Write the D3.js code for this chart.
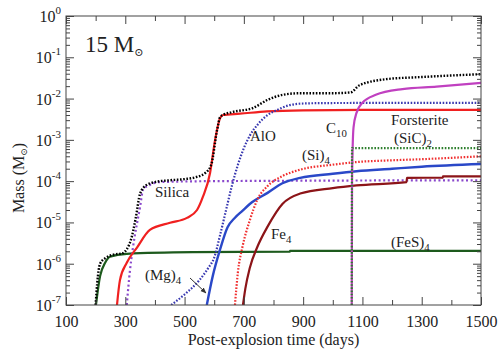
<!DOCTYPE html>
<html><head><meta charset="utf-8">
<script src="https://cdn.jsdelivr.net/npm/d3@7/dist/d3.min.js"></script>
<style>
body{margin:0;background:#fff;}
svg{display:block;font-family:"Liberation Serif","Tinos","Times New Roman","DejaVu Serif",serif;}
svg text{font-family:"Liberation Serif","Tinos","Times New Roman","DejaVu Serif",serif;}
</style></head><body>
<svg id="c" width="500" height="350"></svg>
<script>
// ---- data (days, mass in solar masses) ----
const totalDays = [200,205,215,235,260,290,305,320,335,350,370,400,450,500,540,570,590,610,620,630,660,730,780,830,890,1000,1060,1090,1180,1290,1500];
const totalMass = [1e-7,3.2e-7,1.0e-6,1.4e-6,1.66e-6,1.78e-6,2.24e-6,4.0e-6,1.26e-5,5.0e-5,7.9e-5,9.5e-5,1.05e-4,1.12e-4,1.26e-4,1.58e-4,2.5e-4,1.78e-3,3.55e-3,4.0e-3,4.7e-3,5.9e-3,9.3e-3,1.23e-2,1.35e-2,1.35e-2,1.41e-2,2.1e-2,2.95e-2,3.3e-2,3.9e-2];

const forstDays = [272,282,305,340,383,451,508,542,562,586,603,620,630,687,778,900,1100,1500];
const forstMass = [1e-7,4.0e-7,1.05e-6,2.5e-6,6.6e-6,9.8e-6,1.29e-5,2.0e-5,4.2e-5,1.58e-4,1.0e-3,3.4e-3,4.0e-3,4.3e-3,4.9e-3,5.2e-3,5.3e-3,5.3e-3];

const silicaDays = [305,316,326,350,360,383,417,600,1500];
const silicaMass = [1e-7,7.1e-7,2.5e-6,2.4e-5,6.2e-5,8.1e-5,9.5e-5,1.0e-4,1.05e-4];

const fesDays = [201,215,232,248,305,528,855,856,1500];
const fesMass = [1e-7,5.0e-7,1.05e-6,1.48e-6,1.74e-6,1.9e-6,1.95e-6,2.04e-6,2.04e-6];

const aloDays = [455,500,550,580,600,620,640,660,680,700,720,750,780,810,850,900,1000,1500];
const aloMass = [1e-7,1.8e-7,4.0e-7,7.9e-7,1.41e-6,5.0e-6,2.0e-5,7.9e-5,2.5e-4,6.3e-4,1.26e-3,2.5e-3,4.0e-3,5.2e-3,6.8e-3,7.6e-3,7.8e-3,7.9e-3];

const mgDays = [575,595,620,645,670,695,720,780,830,890,1000,1080,1200,1300,1500];
const mgMass = [1e-7,5.0e-7,2.24e-6,7.6e-6,1.3e-5,1.9e-5,2.8e-5,5.2e-5,8.9e-5,1.2e-4,1.51e-4,1.74e-4,2.0e-4,2.24e-4,2.6e-4];

const siDays = [670,680,695,720,745,780,830,890,1000,1080,1200,1300,1500];
const siMass = [1e-7,6.3e-7,2.5e-6,1.12e-5,3.5e-5,7.6e-5,1.32e-4,1.9e-4,2.5e-4,2.9e-4,3.2e-4,3.4e-4,4.0e-4];

const feDays = [697,705,720,745,780,830,890,1000,1080,1249,1250,1371,1372,1500];
const feMass = [1e-7,2.5e-7,7.9e-7,2.5e-6,7.9e-6,2.8e-5,5.0e-5,6.8e-5,7.9e-5,9.5e-5,1.2e-4,1.22e-4,1.3e-4,1.3e-4];

const c10Days = [1064,1065,1067,1070,1080,1100,1145,1235,1350,1500];
const c10Mass = [1e-7,1.0e-4,6.3e-4,2.0e-3,4.5e-3,7.9e-3,1.23e-2,1.7e-2,1.95e-2,2.4e-2];

const sicDays = [1064,1065,1500];
const sicMass = [1e-7,6.3e-4,6.3e-4];

const xTicks = [100,300,500,700,900,1100,1300,1500];
const xMinor = [200,400,600,800,1000,1200,1400];
const yTicks = [1e-7,1e-6,1e-5,1e-4,1e-3,1e-2,1e-1,1];
const yExp = ["-7","-6","-5","-4","-3","-2","-1","0"];

// ---- layout ----
const L=66, R=481, T=16, B=305;
const svg = d3.select("#c");
const x = d3.scaleLinear().domain([100,1500]).range([L,R]);
const y = d3.scaleLog().domain([1e-7,1]).range([B,T]);

svg.append("clipPath").attr("id","clip").append("rect")
  .attr("x",L).attr("y",T).attr("width",R-L).attr("height",B-T);

const series = [
  {d:fesDays, m:fesMass, c:"#1d5a1d", w:2.2, dash:null},
  {d:silicaDays, m:silicaMass, c:"#8a48cc", w:2.2, dash:"2,2.6"},
  {d:forstDays, m:forstMass, c:"#f02020", w:2.2, dash:null},
  {d:aloDays, m:aloMass, c:"#3838b0", w:2.2, dash:"1.6,1.6"},
  {d:mgDays, m:mgMass, c:"#2a48c8", w:2.4, dash:null},
  {d:siDays, m:siMass, c:"#f03030", w:2.2, dash:"1.6,1.6"},
  {d:feDays, m:feMass, c:"#8c1418", w:2.2, dash:null},
  {d:c10Days, m:c10Mass, c:"#c040c0", w:2.2, dash:null},
  {d:sicDays, m:sicMass, c:"#2e7f2e", w:2.2, dash:"1.6,1.6"},
  {d:totalDays, m:totalMass, c:"#000", w:2.4, dash:"1.6,1.6"}
];

const line = d3.line().x(p=>x(p[0])).y(p=>y(p[1])).curve(d3.curveMonotoneX);
const g = svg.append("g").attr("clip-path","url(#clip)");
series.forEach(s=>{
  g.append("path").attr("d", line(s.d.map((v,i)=>[v,s.m[i]])))
   .attr("fill","none").attr("stroke",s.c).attr("stroke-width",s.w)
   .attr("stroke-dasharray",s.dash);
});

// ---- axes ----
const axCol="#444";
function style(sel){ sel.select(".domain").remove(); sel.selectAll("line").attr("stroke",axCol); }
svg.append("g").attr("transform",`translate(0,${B})`)
  .call(d3.axisBottom(x).tickValues(xTicks).tickSizeInner(-8).tickSizeOuter(0).tickPadding(11).tickFormat(d3.format("d")))
  .call(style).call(s=>s.selectAll("text").attr("font-size",16).attr("fill","#222").attr("font-family",null));
svg.append("g").attr("transform",`translate(0,${B})`)
  .call(d3.axisBottom(x).tickValues(xMinor).tickSizeInner(-5).tickSizeOuter(0).tickFormat("")).call(style);
svg.append("g").attr("transform",`translate(0,${T})`)
  .call(d3.axisTop(x).tickValues(xTicks).tickSizeInner(-8).tickSizeOuter(0).tickFormat("")).call(style);
svg.append("g").attr("transform",`translate(0,${T})`)
  .call(d3.axisTop(x).tickValues(xMinor).tickSizeInner(-5).tickSizeOuter(0).tickFormat("")).call(style);

const yMinor=[];
yTicks.slice(0,-1).forEach(t=>{for(let k=2;k<10;k++) yMinor.push(t*k);});
[[L,d3.axisLeft],[R,d3.axisRight]].forEach(([px,ax])=>{
  svg.append("g").attr("transform",`translate(${px},0)`)
    .call(ax(y).tickValues(yTicks).tickSizeInner(-8).tickSizeOuter(0).tickFormat("")).call(style);
  svg.append("g").attr("transform",`translate(${px},0)`)
    .call(ax(y).tickValues(yMinor).tickSizeInner(-4).tickSizeOuter(0).tickFormat("")).call(style);
});
// y labels with superscripts
yTicks.forEach((t,i)=>{
  const tx = svg.append("text").attr("x",L-5).attr("y",y(t)+6).attr("text-anchor","end")
    .attr("font-size",16).attr("fill","#222");
  tx.append("tspan").text("10");
  tx.append("tspan").attr("font-size",11).attr("dy",-8).text(yExp[i]);
});

svg.append("rect").attr("x",L).attr("y",T).attr("width",R-L).attr("height",B-T)
  .attr("fill","none").attr("stroke",axCol).attr("stroke-width",1);

// axis titles
svg.append("text").attr("x",(L+R)/2).attr("y",345).attr("text-anchor","middle")
  .attr("font-size",16).attr("fill","#222").text("Post-explosion time (days)");
const yt = svg.append("text").attr("transform","translate(24,178) rotate(-90)")
  .attr("text-anchor","middle").attr("font-size",16).attr("fill","#222");
yt.append("tspan").text("Mass (M");
yt.append("tspan").attr("font-size",9).attr("dy",3).text("⊙");
yt.append("tspan").attr("dy",-3).text(")");

// annotations
function lab(px,py,main,sub,fs,sfs,sdy){
  const t=svg.append("text").attr("x",px).attr("y",py).attr("font-size",fs||15).attr("fill","#222");
  t.append("tspan").text(main);
  if(sub){ t.append("tspan").attr("font-size",sfs||(fs||15)*0.72).attr("dy",sdy||4).text(sub); }
  return t;
}
lab(85,52,"15 M","⊙",23,11,4);
lab(155,197,"Silica");
lab(250,141,"AlO");
lab(326,133,"C","10");
lab(391,125,"Forsterite");
lab(394,143,"(SiC)","2");
lab(302,160,"(Si)","4");
lab(271,239,"Fe","4");
lab(391,247,"(FeS)","4");
lab(145,280,"(Mg)","4");
svg.append("defs").append("marker").attr("id","ar").attr("viewBox","0 0 10 10")
  .attr("refX",9).attr("refY",5).attr("markerWidth",6).attr("markerHeight",6).attr("orient","auto")
  .append("path").attr("d","M0,1 L10,5 L0,9 z").attr("fill","#333");
svg.append("line").attr("x1",190).attr("y1",278).attr("x2",206).attr("y2",293)
  .attr("stroke","#333").attr("stroke-width",1).attr("marker-end","url(#ar)");
</script></body></html>
